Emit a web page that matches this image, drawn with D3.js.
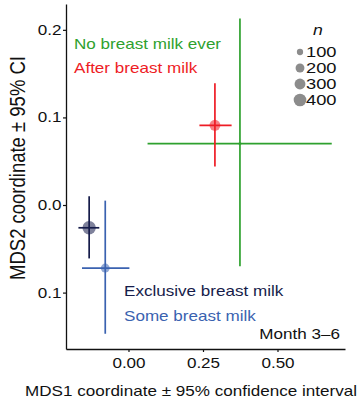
<!DOCTYPE html>
<html><head><meta charset="utf-8">
<script src="https://cdn.jsdelivr.net/npm/d3@7"></script>
<style>body{margin:0;background:#fff}text{font-family:"Liberation Sans",Arial,sans-serif}</style>
</head><body>
<script>
const groups = ["No breast milk ever","After breast milk","Exclusive breast milk","Some breast milk"];
const colors = ["#2ea12e","#ee1c25","#161c4a","#3a62b0"];
const mds1 = [0.374, 0.290, -0.132, -0.078];
const mds1Lo = [0.064, 0.238, -0.168, -0.156];
const mds1Hi = [0.682, 0.346, -0.098, 0.003];
const mds2 = [0.070, 0.091, -0.026, -0.072];
const mds2Lo = [-0.070, 0.044, -0.061, -0.147];
const mds2Hi = [0.213, 0.139, 0.010, 0.005];
const counts = [25, 300, 450, 200];
const legendN = [100, 200, 300, 400];
const xTicks = [0, 0.25, 0.5];
const yTicks = [0.2, 0.1, 0.0, -0.1];

const SX = 1.22; // horizontal stretch of the lettering
const W = 364, H = 400;
const svg = d3.select("body").append("svg").attr("width", W).attr("height", H);
const x = d3.scaleLinear().domain([-0.2097, 0.7265]).range([66, 345]);
const y = d3.scaleLinear().domain([-0.1644, 0.2295]).range([349, 4]);
const r = d3.scaleSqrt().domain([0, 400]).range([0, 6.3]);

function stretchedText(sel, px, py, anchor, txt, size, color) {
  return sel.append("text").attr("transform", `translate(${px},${py}) scale(${SX},1)`)
    .attr("text-anchor", anchor).style("font-size", size + "px").attr("fill", color).text(txt);
}

// axes
const xAxis = d3.axisBottom(x).tickValues(xTicks).tickFormat(d3.format(".2f")).tickSize(3).tickSizeOuter(0).tickPadding(6);
const yAxis = d3.axisLeft(y).tickValues(yTicks).tickFormat(d => d3.format(".1f")(Math.abs(d))).tickSize(3).tickSizeOuter(0).tickPadding(1.5);
const gx = svg.append("g").attr("transform", "translate(0,349)").call(xAxis);
const gy = svg.append("g").attr("transform", "translate(66,0)").call(yAxis);
[gx, gy].forEach(g => {
  g.select(".domain").attr("stroke", "#111").attr("stroke-width", 1.3);
  g.selectAll(".tick line").attr("stroke", "#111").attr("stroke-width", 1.2);
  g.selectAll(".tick text").attr("fill", "#111").style("font-size", "14px")
    .style("font-family", "'Liberation Sans',Arial,sans-serif")
    .each(function() {
      const t = d3.select(this);
      const xx = +t.attr("x") || 0;
      t.attr("x", xx / SX).attr("transform", `scale(${SX},1)`);
    });
});

// error bars
const idx = d3.range(groups.length);
const eb = svg.append("g");
eb.selectAll(".h").data(idx).join("line")
  .attr("x1", i => x(mds1Lo[i])).attr("x2", i => x(mds1Hi[i]))
  .attr("y1", i => y(mds2[i])).attr("y2", i => y(mds2[i]))
  .attr("stroke", i => colors[i]).attr("stroke-width", 1.7);
eb.selectAll(".v").data(idx).join("line")
  .attr("x1", i => x(mds1[i])).attr("x2", i => x(mds1[i]))
  .attr("y1", i => y(mds2Lo[i])).attr("y2", i => y(mds2Hi[i]))
  .attr("stroke", i => colors[i]).attr("stroke-width", 1.7);
eb.selectAll("circle").data(idx).join("circle")
  .attr("cx", i => x(mds1[i])).attr("cy", i => y(mds2[i]))
  .attr("r", i => r(counts[i]))
  .attr("fill", i => colors[i]).attr("fill-opacity", 0.55);

// group labels
const labelPos = [[74, 49], [74, 73], [124, 296], [124, 321]];
idx.forEach(i => stretchedText(svg, labelPos[i][0], labelPos[i][1], "start", groups[i], 14, colors[i]));
stretchedText(svg, 340, 339, "end", "Month 3–6", 14, "#111");

// size legend
stretchedText(svg, 318, 35, "middle", "n", 14.5, "#111").style("font-style", "italic");
const lg = svg.append("g");
lg.selectAll("circle").data(legendN).join("circle")
  .attr("cx", 300).attr("cy", (d, i) => 52 + i * 16)
  .attr("r", d => r(d)).attr("fill", "#8c8c8c");
legendN.forEach((d, i) => stretchedText(lg, 306, 52 + i * 16 + 5, "start", d, 15, "#111"));

// axis titles
svg.append("text").attr("transform", "translate(24.5,168) rotate(-90) scale(1,1.15)")
  .attr("text-anchor", "middle").style("font-size", "18.5px").attr("fill", "#111")
  .text("MDS2 coordinate ± 95% CI");
stretchedText(svg, 191, 396, "middle", "MDS1 coordinate ± 95% confidence interval", 14, "#111");
</script>
</body></html>
